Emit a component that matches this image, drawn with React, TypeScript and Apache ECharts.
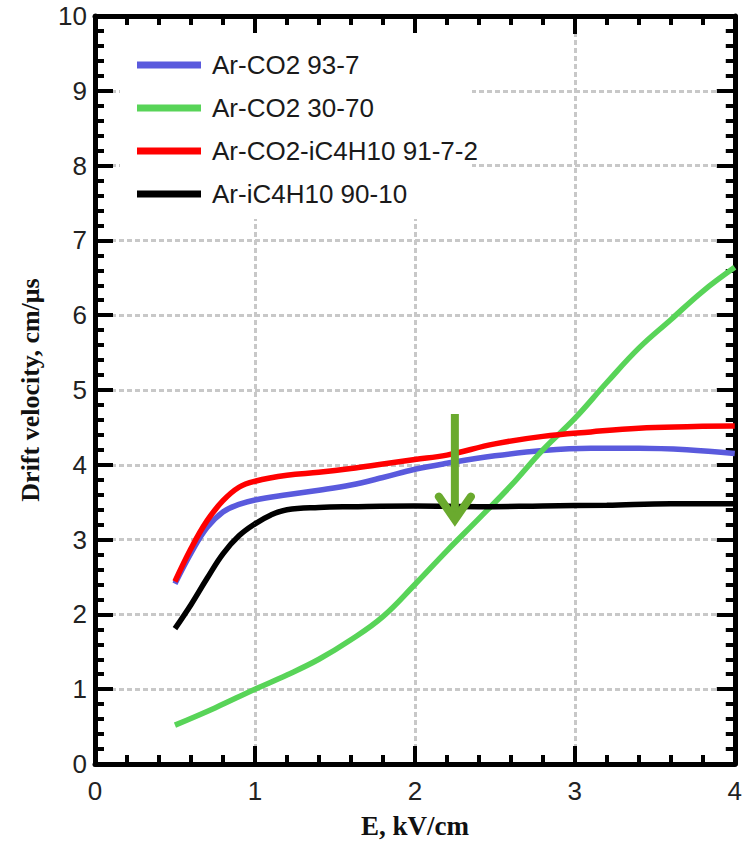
import React, { useEffect, useRef } from "react";
import * as echarts from "echarts";

const seriesNames = ["Ar-CO2 93-7", "Ar-CO2 30-70", "Ar-CO2-iC4H10 91-7-2", "Ar-iC4H10 90-10"];
const seriesColors = ["#5a5add", "#58d458", "#ff0000", "#000000"];

const blueX = [0.5, 0.6, 0.7, 0.8, 0.9, 1.0, 1.2, 1.4, 1.6, 1.8, 2.0, 2.2, 2.5, 2.8, 3.1, 3.4, 3.7, 4.0];
const blueY = [2.41, 2.82, 3.16, 3.37, 3.47, 3.53, 3.6, 3.66, 3.73, 3.83, 3.94, 4.02, 4.12, 4.19, 4.22, 4.22, 4.2, 4.15];

const greenX = [0.5, 0.75, 1.0, 1.2, 1.4, 1.6, 1.8, 2.0, 2.2, 2.4, 2.6, 2.8, 3.0, 3.2, 3.4, 3.6, 3.8, 4.0];
const greenY = [0.52, 0.75, 1.0, 1.19, 1.4, 1.66, 1.97, 2.4, 2.85, 3.28, 3.72, 4.2, 4.62, 5.1, 5.56, 5.94, 6.32, 6.64];

const redX = [0.5, 0.6, 0.7, 0.8, 0.9, 1.0, 1.2, 1.4, 1.6, 1.8, 2.0, 2.2, 2.5, 2.8, 3.1, 3.4, 3.7, 4.0];
const redY = [2.44, 2.88, 3.25, 3.52, 3.7, 3.78, 3.86, 3.9, 3.95, 4.01, 4.07, 4.13, 4.28, 4.38, 4.44, 4.49, 4.51, 4.52];

const blackX = [0.5, 0.6, 0.7, 0.8, 0.9, 1.0, 1.1, 1.2, 1.4, 1.6, 2.0, 2.4, 2.8, 3.2, 3.6, 4.0];
const blackY = [1.81, 2.13, 2.48, 2.81, 3.05, 3.21, 3.33, 3.4, 3.43, 3.44, 3.45, 3.44, 3.45, 3.46, 3.48, 3.48];

const arrowX = 2.25;
const arrowTop = 4.68;
const arrowTip = 3.2;

const xMin = 0, xMax = 4, xStep = 1;
const yMin = 0, yMax = 10, yStep = 1;
const xName = "E, kV/cm";
const yName = "Drift velocity, cm/μs";

const pairs = (xs: number[], ys: number[]) => xs.map((x, i) => [x, ys[i]]);

export default function App() {
  const ref = useRef<HTMLDivElement>(null);
  useEffect(() => {
    if (!ref.current) return;
    const chart = echarts.init(ref.current, null, { renderer: "svg" });
    const sans = "Liberation Sans";
    const serif = "Liberation Serif";
    const axisBase = (show: boolean) => ({
      axisLine: { show: true, onZero: false, lineStyle: { color: "#000", width: 5 } },
      axisTick: { show: true, inside: true, length: 18, lineStyle: { color: "#000", width: 4 } },
      minorTick: { show: true, splitNumber: 5, length: 9, lineStyle: { color: "#000", width: 4 } },
      axisLabel: { show },
    });
    const split = { show: true, lineStyle: { color: "#c8c8c8", width: 3, type: [5, 3] } };
    const dataSeries = [pairs(blueX, blueY), pairs(greenX, greenY), pairs(redX, redY), pairs(blackX, blackY)];
    chart.setOption({
      animation: false,
      backgroundColor: "#fff",
      grid: { left: 95, right: 10, top: 16, bottom: 80 },
      legend: {
        data: seriesNames,
        orient: "vertical",
        left: 137,
        top: 51,
        padding: 0,
        icon: "rect",
        itemWidth: 64,
        itemHeight: 7,
        itemGap: 15,
        textStyle: { fontSize: 26, fontFamily: sans, color: "#1a1a1a", padding: [0, 0, 0, 6], lineHeight: 28 },
      },
      graphic: [
        { type: "rect", z: 1, shape: { x: 120, y: 33, width: 352, height: 186 }, style: { fill: "#fff" } },
      ],
      xAxis: [
        {
          type: "value", min: xMin, max: xMax, interval: xStep, position: "bottom",
          ...axisBase(true),
          axisLabel: { show: true, fontSize: 26, fontFamily: sans, color: "#222", margin: 14 },
          splitLine: split,
          name: xName, nameLocation: "middle", nameGap: 48,
          nameTextStyle: { fontSize: 27, fontFamily: serif, fontWeight: "bold", color: "#111" },
        },
        {
          type: "value", min: xMin, max: xMax, interval: xStep, position: "top",
          ...axisBase(false), splitLine: { show: false },
        },
      ],
      yAxis: [
        {
          type: "value", min: yMin, max: yMax, interval: yStep, position: "left",
          ...axisBase(true),
          axisLabel: { show: true, fontSize: 26, fontFamily: sans, color: "#222", margin: 8 },
          splitLine: split,
          name: yName, nameLocation: "middle", nameGap: 52,
          nameTextStyle: { fontSize: 26, fontFamily: serif, fontWeight: "bold", color: "#111" },
        },
        {
          type: "value", min: yMin, max: yMax, interval: yStep, position: "right",
          ...axisBase(false), splitLine: { show: false },
        },
      ],
      series: [
        ...seriesNames.map((name, i) => ({
          name,
          type: "line",
          data: dataSeries[i],
          smooth: 0.4,
          showSymbol: false,
          z: 2,
          lineStyle: { color: seriesColors[i], width: 5.5 },
          itemStyle: { color: seriesColors[i] },
        })),
        {
          type: "custom",
          name: "arrow",
          z: 5,
          data: [[arrowX, arrowTop, arrowTip]],
          encode: { x: 0, y: [1, 2] },
          renderItem: (params: any, api: any) => {
            const top = api.coord([api.value(0), api.value(1)]);
            const tip = api.coord([api.value(0), api.value(2)]);
            const color = "#6aaa2e";
            return {
              type: "group",
              children: [
                {
                  type: "line",
                  shape: { x1: top[0], y1: top[1], x2: tip[0], y2: tip[1] - 6 },
                  style: { stroke: color, lineWidth: 8, lineCap: "butt" },
                },
                {
                  type: "polyline",
                  shape: { points: [[tip[0] - 16, tip[1] - 28], [tip[0], tip[1] - 5], [tip[0] + 16, tip[1] - 28]] },
                  style: { stroke: color, lineWidth: 8, fill: null, lineJoin: "miter", lineCap: "round" },
                },
              ],
            };
          },
        },
      ],
    });
    return () => chart.dispose();
  }, []);
  return <div ref={ref} style={{ position: "fixed", left: 0, top: 0, width: 745, height: 844 }} />;
}
